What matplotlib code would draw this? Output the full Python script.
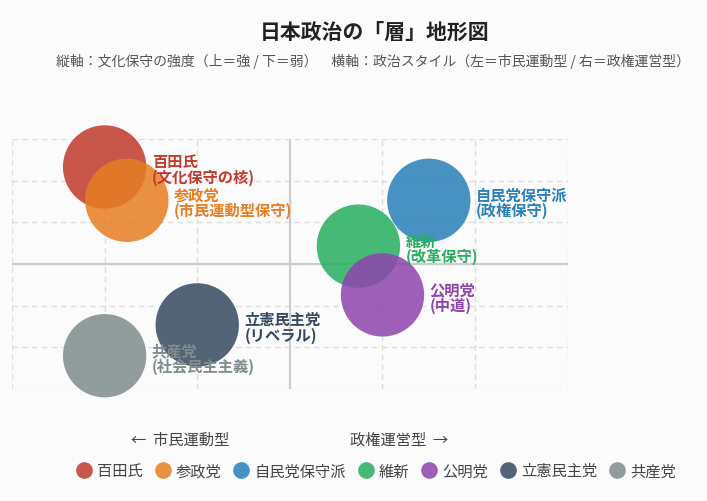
import matplotlib
matplotlib.use("Agg")
import matplotlib.pyplot as plt
from matplotlib.lines import Line2D

plt.rcParams['font.family'] = ['Noto Sans CJK JP', 'DejaVu Sans']

# data: style axis (left = citizen movement, right = governing) and cultural conservatism
names = ["百田氏", "参政党", "自民党保守派", "維新", "公明党", "立憲民主党", "共産党"]
notes = ["文化保守の核", "市民運動型保守", "政権保守", "改革保守", "中道", "リベラル", "社会民主主義"]
style_x = [-2.0, -1.76, 1.5, 0.74, 1.0, -1.0, -2.0]
culture_y = [2.33, 1.53, 1.53, 0.43, -0.74, -1.46, -2.2]
colors = ["#c0392b", "#e67e22", "#2980b9", "#27ae60", "#8e44ad", "#34495e", "#7f8c8d"]

bg = "#fbfbfc"
fig = plt.figure(figsize=(7.07, 5.02), dpi=100, facecolor=bg)
ax = fig.add_axes([0.017, 0.223, 0.786, 0.498], facecolor=bg)

ax.set_xlim(-3, 3)
ax.set_ylim(-3, 3)
ax.set_xticks(range(-3, 4))
ax.set_yticks(range(-3, 4))
ax.tick_params(length=0, labelbottom=False, labelleft=False)
for s in ax.spines.values():
    s.set_visible(False)
ax.grid(True, color="#dddddd", linestyle=(0, (4, 3)), linewidth=1)
ax.set_axisbelow(True)
ax.axhline(0, color="#cccccc", linewidth=1.5, zorder=1)
ax.axvline(0, color="#cccccc", linewidth=1.5, zorder=1)

for i in range(len(names)):
    ax.scatter(style_x[i], culture_y[i], s=3600, color=colors[i], alpha=0.85,
               edgecolors="none", zorder=2, clip_on=False)

for i in range(len(names)):
    ax.annotate(f"{names[i]}\n({notes[i]})", (style_x[i], culture_y[i]),
                xytext=(34, -1.5), textcoords="offset points", ha="left", va="center",
                fontsize=11, fontweight="bold", color=colors[i], linespacing=0.95,
                zorder=5, annotation_clip=False)

fig.text(0.53, 0.935, "日本政治の「層」地形図", ha="center", va="center",
         fontsize=15, fontweight="bold", color="#222222")
fig.text(0.527, 0.877, "縦軸：文化保守の強度（上＝強 / 下＝弱）　横軸：政治スタイル（左＝市民運動型 / 右＝政権運営型）",
         ha="center", va="center", fontsize=10, color="#555555")

fig.text(0.255, 0.123, "←  市民運動型", ha="center", va="center", fontsize=11, color="#444444")
fig.text(0.565, 0.123, "政権運営型  →", ha="center", va="center", fontsize=11, color="#444444")

handles = [Line2D([], [], marker="o", linestyle="none", markersize=12,
                  markerfacecolor=c, markeredgecolor="none", alpha=0.85) for c in colors]
fig.legend(handles, names, loc="center", bbox_to_anchor=(0.532, 0.06), ncol=7,
           frameon=False, fontsize=11, handletextpad=0.35, columnspacing=0.8,
           handlelength=1.0, labelcolor="#444444")

fig.savefig("out.png", dpi=100, facecolor=bg)
